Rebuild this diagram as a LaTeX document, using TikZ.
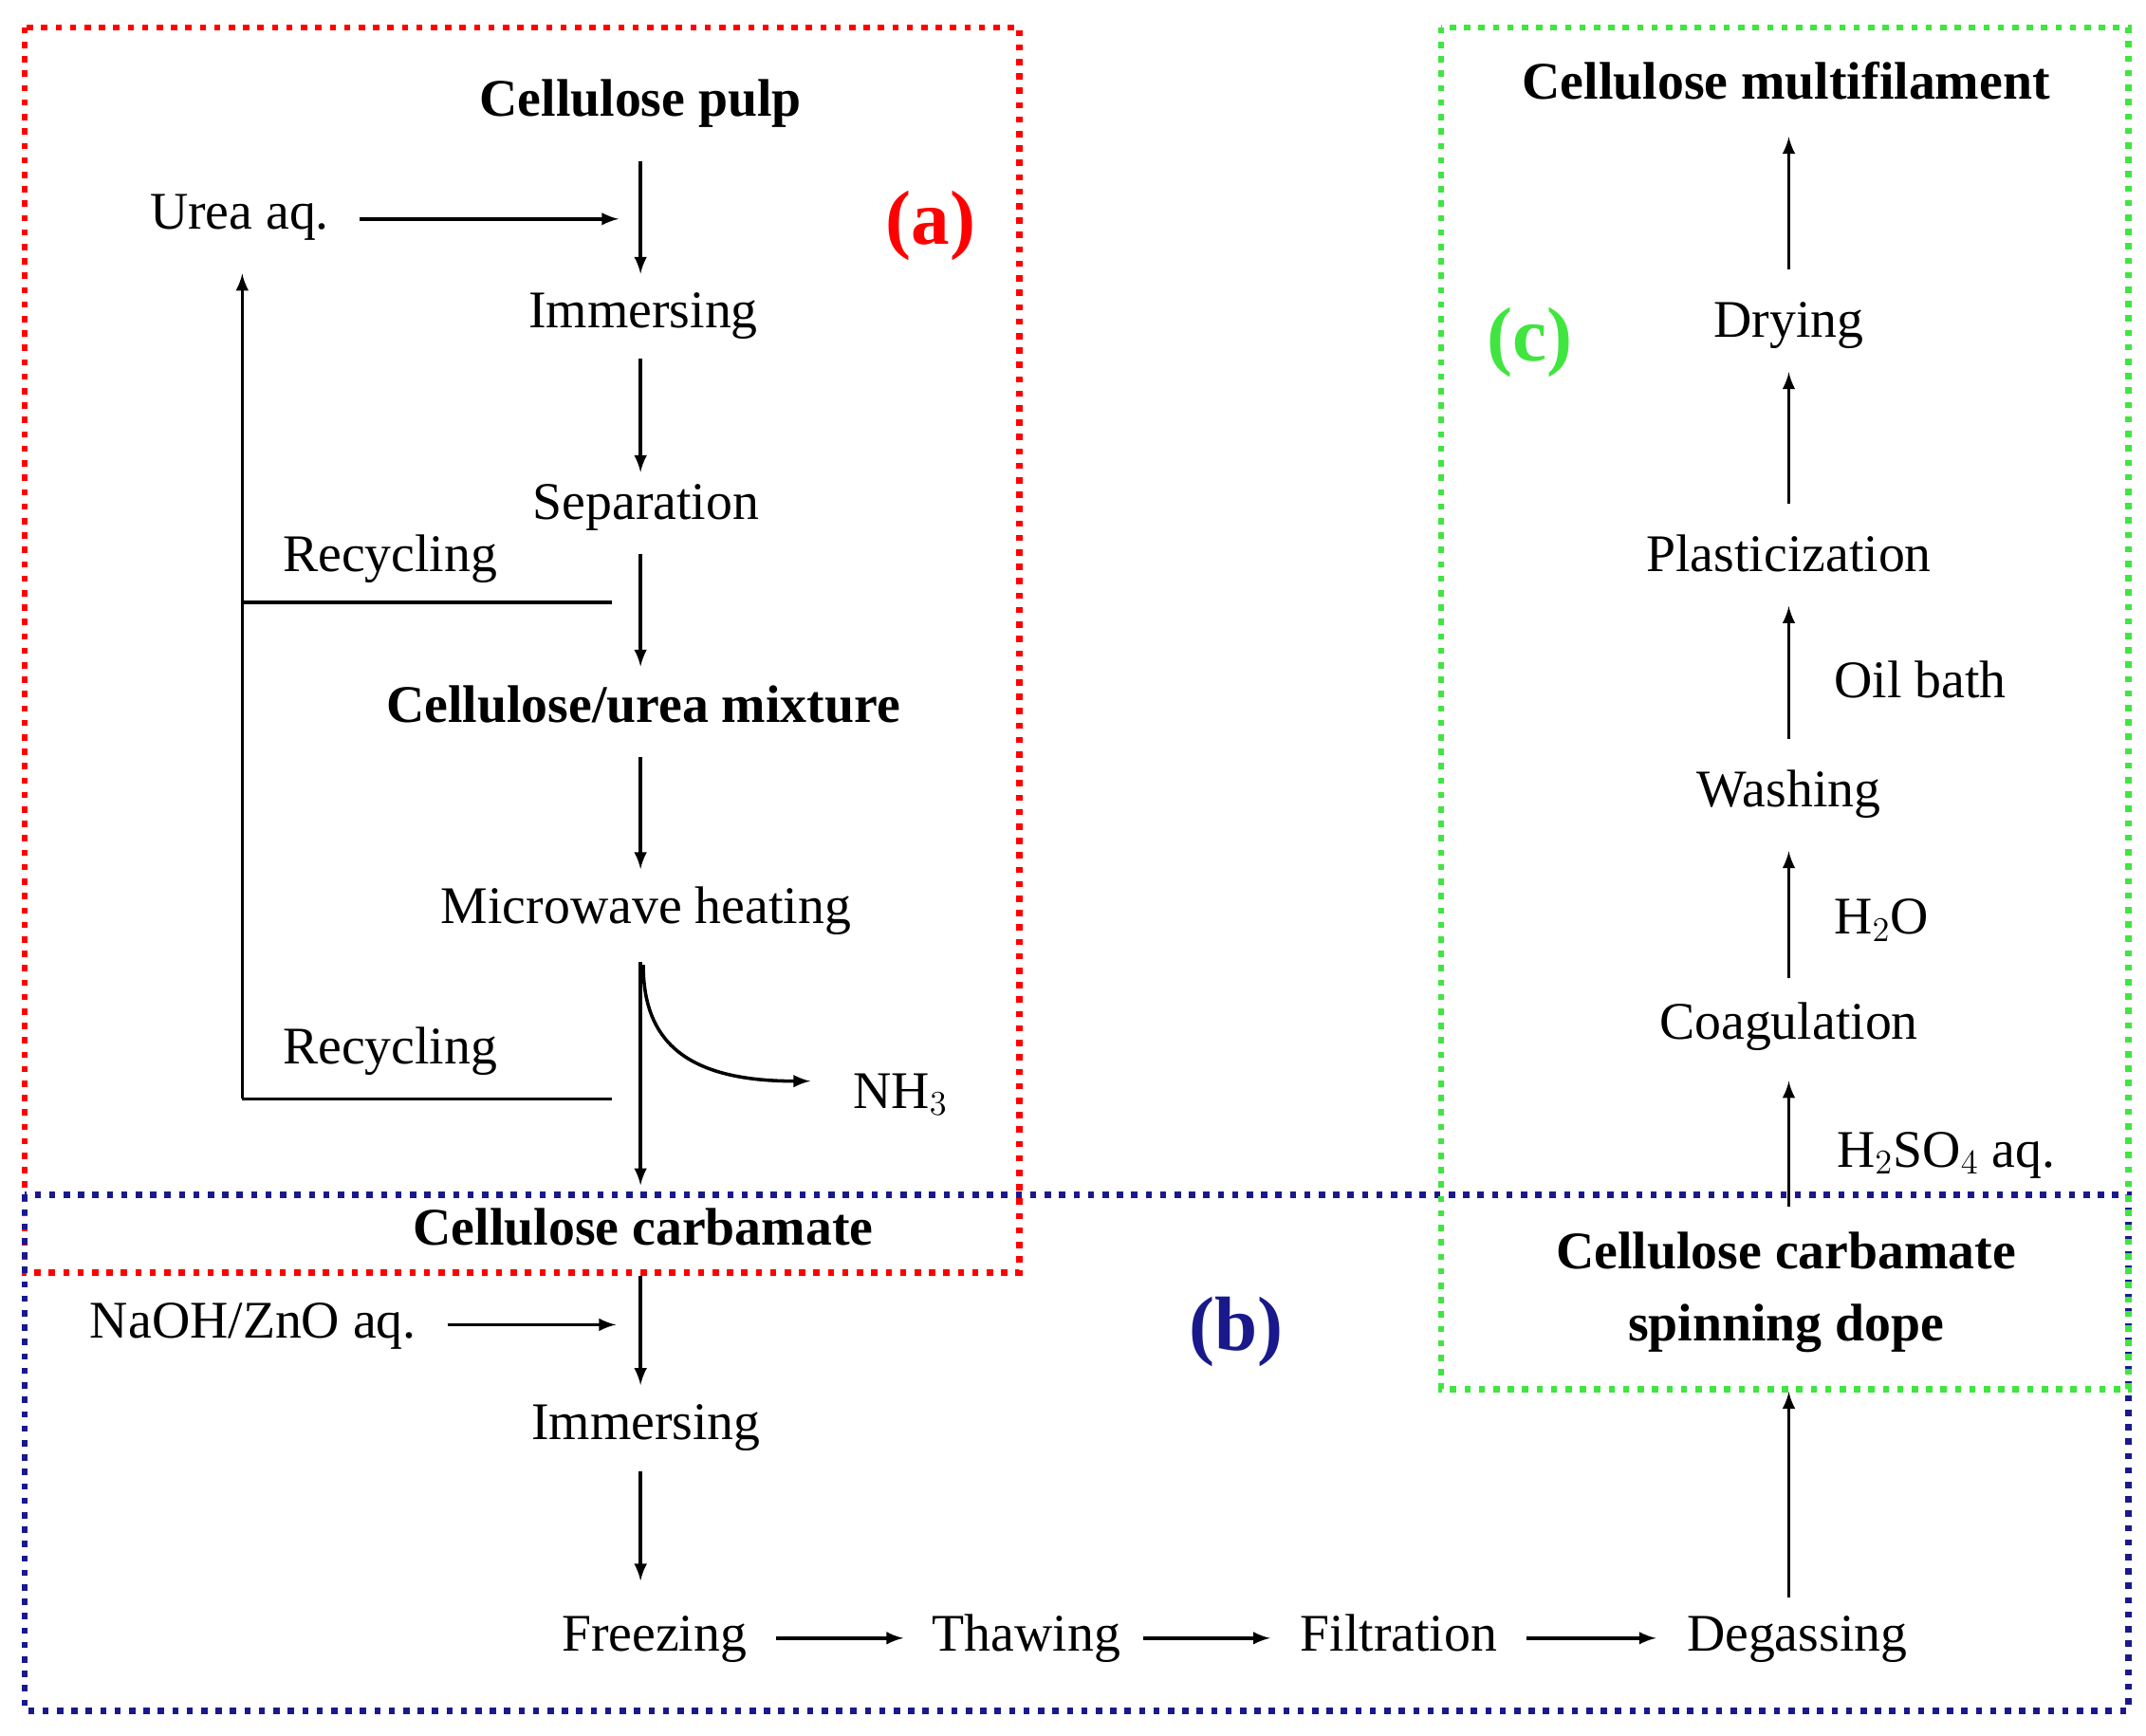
\documentclass[tikz,border=0pt]{standalone}
\usepackage{fontspec}
\setmainfont{Liberation Serif}
\begin{document}
\begin{tikzpicture}[x=0.02cm,y=-0.02cm,
 t/.style={font=\fontsize{22}{26}\selectfont,inner sep=1pt,text height=1.6ex,text depth=0.45ex,yshift=-0.1cm},
 b/.style={t,font=\fontsize{22}{26}\selectfont\bfseries},
 lab/.style={font=\fontsize{32}{36}\selectfont\bfseries},
 ar/.style={-latex,line width=1.4pt},
 ln/.style={line width=1.4pt},
 box/.style={line width=2.6pt,dash pattern=on 2.6pt off 3.4pt}]
\definecolor{bblue}{rgb}{0.1,0.1,0.55}
\definecolor{ggreen}{rgb}{0.25,0.9,0.25}
\useasboundingbox (0,0) rectangle (1568,1268);
\draw[box,red] (18,20) rectangle (745,930);
\draw[box,bblue] (18,873) rectangle (1555,1250);
\draw[box,ggreen] (1053,20) rectangle (1555,1015);
\node[lab,red] (la) at (680,165) {(a)};
\node[lab,bblue] (lb) at (903,973) {(b)};
\node[lab,ggreen] (lc) at (1118,250) {(c)};
% (a)
\node[b] (pulp) at (468,75) {Cellulose pulp};
\node[t] (urea) at (175,158) {Urea aq.};
\coordinate (u0) at (263,160);
\coordinate (u1) at (452,160);
\node[t] (imm1) at (470,230) {Immersing};
\node[t] (sep) at (472,370) {Separation};
\node[t] (rec1) at (285,408) {Recycling};
\node[b] (mix) at (470,518) {Cellulose/urea mixture};
\node[t] (mw) at (472,665) {Microwave heating};
\node[t] (nh3) at (658,800) {NH$_3$};
\node[t] (rec2) at (285,768) {Recycling};
\node[b] (cc) at (470,900) {Cellulose carbamate};
\draw[ar] (u0) -- (u1);
\draw[ar] (468,118) -- (468,200);
\draw[ar] (468,262) -- (468,345);
\draw[ar] (468,405) -- (468,487);
\draw[ar] (468,553) -- (468,635);
\draw[ar] (468,703) -- (468,866);
\draw[ar] (470,705) .. controls (470,760) and (500,790) .. (592,790);
\draw[ln] (447,440) -- (177,440);
\draw[ln] (447,803) -- (177,803);
\draw[ar] (177,803) -- (177,200);
% (b)
\node[t] (naoh) at (185,968) {NaOH/ZnO aq.};
\node[t] (imm2) at (472,1042) {Immersing};
\node[t] (frz) at (478,1197) {Freezing};
\node[t] (thw) at (750,1197) {Thawing};
\node[t] (fil) at (1022,1197) {Filtration};
\node[t] (deg) at (1313,1197) {Degassing};
\draw[ar] (327,968) -- (450,968);
\draw[ar] (468,932) -- (468,1012);
\draw[ar] (468,1075) -- (468,1155);
\draw[ar] (567,1197) -- (660,1197);
\draw[ar] (835,1197) -- (928,1197);
\draw[ar] (1115,1197) -- (1210,1197);
\draw[ar] (1307,1167) -- (1307,1017);
% (c)
\node[b,align=center,text height=,text depth=,yshift=0.1cm] (dope) at (1305,944) {Cellulose carbamate\\[4pt]spinning dope};
\node[t] (coag) at (1307,750) {Coagulation};
\node[t] (wash) at (1307,580) {Washing};
\node[t] (plas) at (1307,408) {Plasticization};
\node[t] (dry) at (1307,237) {Drying};
\node[b] (fil2) at (1305,63) {Cellulose multifilament};
\node[t,anchor=west] (h2so4) at (1340,843) {H$_2$SO$_4$ aq.};
\node[t,anchor=west] (h2o) at (1338,673) {H$_2$O};
\node[t,anchor=west] (oil) at (1338,500) {Oil bath};
\draw[ar] (1307,882) -- (1307,790);
\draw[ar] (1307,715) -- (1307,622);
\draw[ar] (1307,540) -- (1307,443);
\draw[ar] (1307,368) -- (1307,272);
\draw[ar] (1307,197) -- (1307,100);
\end{tikzpicture}
\end{document}
